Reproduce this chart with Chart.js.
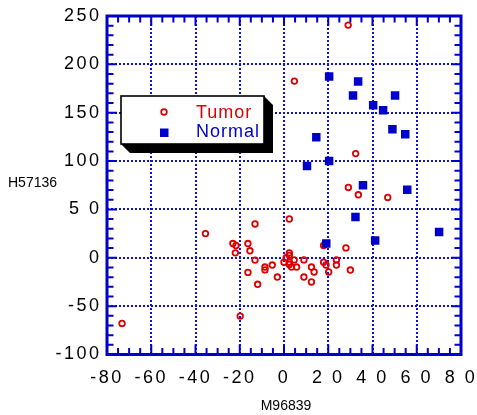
<!DOCTYPE html>
<html>
<head>
<meta charset="utf-8">
<script src="https://cdn.jsdelivr.net/npm/chart.js@4/dist/chart.umd.min.js"></script>
<style>
  html, body { margin: 0; padding: 0; background: #ffffff; }
  #wrap { width: 477px; height: 415px; position: relative; }
</style>
</head>
<body>
<div id="wrap"><canvas id="c" width="477" height="415"></canvas></div>
<script>
// ---- data ----
const seriesNames = ['Tumor', 'Normal'];
const xTitle = 'M96839';
const yTitle = 'H57136';

const tumorX = [29, 4.7, 32.4, 29.1, 33.6, 46.9, 2.4, 17.9, 28.0, 2.4,
  -13.1, -23.1, -21.7, -22, -16.3, -15.4, -13.1, -16.3, -11.9, -8.6,
  -8.6, -5.3, -3.0, -19.8, 2.4, 1.0, 0, 2.4, 4.6, 2.4,
  3.4, 5.7, 9.0, 9.0, 12.4, 13.6, 12.4, 17.9, 19.0, 20.2,
  23.7, 23.7, 30.0, -35.5, -73.2];
const tumorY = [240.6, 182.7, 107.7, 72.7, 65.1, 62.4, 40.1, 12.7, 10.2, 5,
  35, 14.7, 12.7, 5.1, 14.7, 7.2, -2.4, -15.1, -27.4, -9.6,
  -12.5, -7.5, -19.9, -60.3, 2.5, 0, -4.5, -4.5, -2.2, -6.9,
  -9.6, -9.6, -2.2, -19.9, -9.6, -14.7, -25.0, -4.5, -7.5, -14.7,
  -2.2, -7.5, -12.7, 25.0, -67.9];

const normalX = [20.4, 33.5, 31.2, 50.2, 40.3, 44.8, 49.0, 54.8, 14.6, 10.4,
  20.4, 35.7, 55.7, 32.3, 70.1, 41.2, 19.1];
const normalY = [187.5, 182.3, 167.9, 167.9, 157.6, 152.5, 133.0, 127.8, 124.7, 94.9,
  100.1, 75.1, 70.3, 42.2, 26.7, 17.8, 14.7];

const xTickValues = [-80, -60, -40, -20, 0, 20, 40, 60, 80];
const xTickLabels = ['-80', '-60', '-40', '-20', '0', '2 0', '4 0', '6 0', '8 0'];
const yTickValues = [-100, -50, 0, 50, 100, 150, 200, 250];
const yTickLabels = ['-100', '-50', '0', '5 0', '100', '150', '200', '250'];

// ---- styling ----
const BLUE = '#0000cc';
const RED = '#dd0000';
const FONT = '"Liberation Sans", Arial, Helvetica, sans-serif';

const zip = (xs, ys) => xs.map((x, i) => ({ x: x, y: ys[i] }));

const framePlugin = {
  id: 'frame',
  beforeDraw(chart) {
    chart.ctx.letterSpacing = '2.5px';
  },
  beforeDatasetsDraw(chart) {
    const ctx = chart.ctx;
    ctx.letterSpacing = '0px';
    const a = chart.chartArea;
    const xs = chart.scales.x, ys = chart.scales.y;
    ctx.save();
    ctx.strokeStyle = BLUE;
    ctx.lineWidth = 2;
    ctx.setLineDash([]);
    ctx.beginPath();
    for (let v = -80; v <= 80; v += 5) {
      const px = xs.getPixelForValue(v);
      const len = (v % 20 === 0) ? 10 : 6.5;
      ctx.moveTo(px, a.bottom); ctx.lineTo(px, a.bottom - len);
      ctx.moveTo(px, a.top); ctx.lineTo(px, a.top + len);
    }
    for (let v = -100; v <= 250; v += 10) {
      const py = ys.getPixelForValue(v);
      const len = (v % 50 === 0) ? 10 : 6.5;
      ctx.moveTo(a.left, py); ctx.lineTo(a.left + len, py);
      ctx.moveTo(a.right, py); ctx.lineTo(a.right - len, py);
    }
    ctx.stroke();
    ctx.lineWidth = 3;
    ctx.strokeRect(a.left, a.top, a.right - a.left, a.bottom - a.top);
    ctx.restore();
  },
  afterDraw(chart) {
    const ctx = chart.ctx;
    ctx.save();
    ctx.letterSpacing = '0px';
    ctx.fillStyle = '#000000';
    ctx.font = '14px ' + FONT;
    ctx.textBaseline = 'middle';
    ctx.textAlign = 'center';
    ctx.fillText(xTitle, 286, 406.5);
    ctx.textAlign = 'left';
    ctx.fillText(yTitle, 8, 183);

    const L = 121, T = 96, R = 264, B = 144, d = 9;
    ctx.fillStyle = '#000000';
    ctx.beginPath();
    ctx.moveTo(R, T);
    ctx.lineTo(R + d, T + d);
    ctx.lineTo(R + d, B + d);
    ctx.lineTo(L + d, B + d);
    ctx.lineTo(L, B);
    ctx.lineTo(R, B);
    ctx.closePath();
    ctx.fill();
    ctx.fillStyle = '#ffffff';
    ctx.fillRect(L, T, R - L, B - T);
    ctx.strokeStyle = '#000000';
    ctx.lineWidth = 1.6;
    ctx.strokeRect(L, T, R - L, B - T);

    const ds = chart.data.datasets;
    ctx.strokeStyle = ds[0].borderColor;
    ctx.lineWidth = 1.8;
    ctx.beginPath();
    ctx.arc(164, 112, 2.8, 0, Math.PI * 2);
    ctx.stroke();
    ctx.fillStyle = ds[1].backgroundColor;
    ctx.fillRect(160, 128.5, 8.5, 8.5);

    ctx.font = '18px ' + FONT;
    ctx.letterSpacing = '1px';
    ctx.textAlign = 'left';
    ctx.textBaseline = 'middle';
    ctx.fillStyle = RED;
    ctx.fillText(ds[0].label, 196, 113);
    ctx.fillStyle = BLUE;
    ctx.fillText(ds[1].label, 196, 132);
    ctx.restore();
  }
};

new Chart(document.getElementById('c'), {
  type: 'scatter',
  data: {
    datasets: [
      {
        label: seriesNames[0],
        data: zip(tumorX, tumorY),
        pointStyle: 'circle',
        radius: 2.8,
        borderWidth: 1.8,
        borderColor: RED,
        backgroundColor: 'rgba(0,0,0,0)',
        order: 1
      },
      {
        label: seriesNames[1],
        data: zip(normalX, normalY),
        pointStyle: 'rect',
        radius: 6,
        borderWidth: 0,
        borderColor: BLUE,
        backgroundColor: BLUE,
        order: 0
      }
    ]
  },
  options: {
    responsive: false,
    animation: false,
    devicePixelRatio: 1,
    layout: { padding: { top: 16, right: 16, left: 0, bottom: 0 } },
    plugins: { legend: { display: false }, tooltip: { enabled: false }, title: { display: false } },
    scales: {
      x: {
        type: 'linear',
        min: -80, max: 80,
        afterBuildTicks: s => { s.ticks = xTickValues.map(v => ({ value: v })); },
        afterFit: s => { s.height = 60.5; s.paddingLeft = 0; s.paddingRight = 0; },
        ticks: {
          autoSkip: false,
          maxRotation: 0,
          padding: 13,
          color: '#000000',
          font: { family: FONT, size: 18 },
          callback: v => xTickLabels[xTickValues.indexOf(v)]
        },
        grid: { color: '#1010d8', lineWidth: 2, drawTicks: false },
        border: { display: false, dash: [2, 2] }
      },
      y: {
        type: 'linear',
        min: -100, max: 250,
        afterBuildTicks: s => { s.ticks = yTickValues.map(v => ({ value: v })); },
        afterFit: s => { s.width = 107; s.paddingTop = 0; s.paddingBottom = 0; },
        ticks: {
          autoSkip: false,
          padding: 5.5,
          color: '#000000',
          font: { family: FONT, size: 18 },
          callback: v => yTickLabels[yTickValues.indexOf(v)]
        },
        grid: { color: '#1010d8', lineWidth: 2, drawTicks: false },
        border: { display: false, dash: [2, 2] }
      }
    }
  },
  plugins: [framePlugin]
});
</script>
</body>
</html>
